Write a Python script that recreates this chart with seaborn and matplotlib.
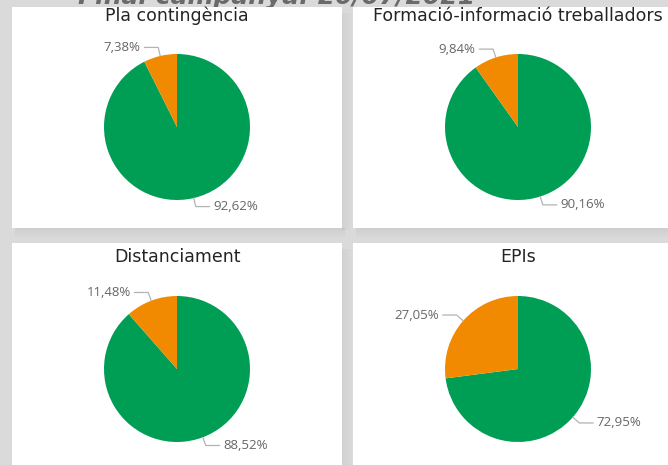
import matplotlib
matplotlib.use("Agg")
import matplotlib.pyplot as plt
import seaborn as sns
import numpy as np
from matplotlib.patches import Rectangle

# ---- data ----
titles = ["Pla contingència", "Formació-informació treballadors", "Distanciament", "EPIs"]
green_pct = [92.62, 90.16, 88.52, 72.95]
orange_pct = [7.38, 9.84, 11.48, 27.05]
header = "Final campanya: 20/07/2021"

sns.set_style("white")
plt.rcParams['font.family'] = ['DejaVu Sans']
palette = sns.color_palette(['#009E55', '#F18A00'])

W, H = 668, 465
fig = plt.figure(figsize=(W / 100, H / 100), dpi=100)
fig.patch.set_facecolor('#dadada')


def fx(x):
    return x / W


def fy(y):
    return 1 - y / H


# cut-off page header (only the bottom of its glyphs is visible)
fig.text(fx(78), fy(4), header, fontsize=18, fontstyle='italic', fontweight='bold',
         color='#6a6a6a', va='baseline', ha='left', zorder=0)

panels = [(12, 7, 342, 228), (353, 7, 683, 228), (12, 243, 342, 480), (353, 243, 683, 480)]
centers = [(177, 127), (518, 127), (177, 369), (518, 369)]
title_base = [21, 21, 262, 262]
R = 73.0

for (x0, y0, x1, y1) in panels:
    # soft shadow
    for i in range(10):
        a = 0.05 * (1 - i / 10)
        fig.patches.append(Rectangle((fx(x0 + 3), fy(y1 + i + 1)), (x1 - x0) / W, 1 / H,
                                     transform=fig.transFigure, facecolor='black',
                                     edgecolor='none', alpha=a, zorder=1))
        fig.patches.append(Rectangle((fx(x1 + i), fy(y1 + 2)), 1 / W, (y1 - y0 - 4) / H,
                                     transform=fig.transFigure, facecolor='black',
                                     edgecolor='none', alpha=a * 0.8, zorder=1))
    fig.patches.append(Rectangle((fx(x0), fy(y1)), (x1 - x0) / W, (y1 - y0) / H,
                                 transform=fig.transFigure, facecolor='white',
                                 edgecolor='none', zorder=2))

for k in range(4):
    cx, cy = centers[k]
    (x0, y0, x1, y1) = panels[k]
    fig.text(fx((x0 + x1) / 2), fy(title_base[k]), titles[k], fontsize=12.5,
             color='#252423', ha='center', va='baseline', zorder=3)

    hw, hh = 160, 115
    ax = fig.add_axes([fx(cx - hw), fy(cy + hh), 2 * hw / W, 2 * hh / H])
    ax.set_zorder(4)
    ax.patch.set_alpha(0)
    vals = [green_pct[k], orange_pct[k]]
    wedges, _ = ax.pie(vals, colors=palette, startangle=90, counterclock=False,
                       radius=1.0, wedgeprops=dict(linewidth=0, antialiased=True))
    ax.set_xlim(-hw / R, hw / R)
    ax.set_ylim(-hh / R, hh / R)
    ax.set_aspect('auto')
    ax.axis('off')

    for w, v in zip(wedges, vals):
        mid = np.deg2rad((w.theta1 + w.theta2) / 2)
        c, s = np.cos(mid), np.sin(mid)
        p0 = (c * 1.0, s * 1.0)
        p1 = (c * 1.12, s * 1.12)
        sign = 1 if c >= 0 else -1
        p2 = (p1[0] + sign * 0.19, p1[1])
        ax.plot([p0[0], p1[0], p2[0]], [p0[1], p1[1], p2[1]], color='#b3b3b3',
                lw=0.9, clip_on=False, solid_joinstyle='miter')
        label = f"{v:.2f}".replace('.', ',') + '%'
        ax.text(p2[0] + sign * 0.05, p2[1], label, ha='left' if sign > 0 else 'right',
                va='center', fontsize=9.5, color='#666666', family=['Open Sans', 'DejaVu Sans'],
                clip_on=False)

fig.savefig('out.png', dpi=100, facecolor=fig.get_facecolor())
